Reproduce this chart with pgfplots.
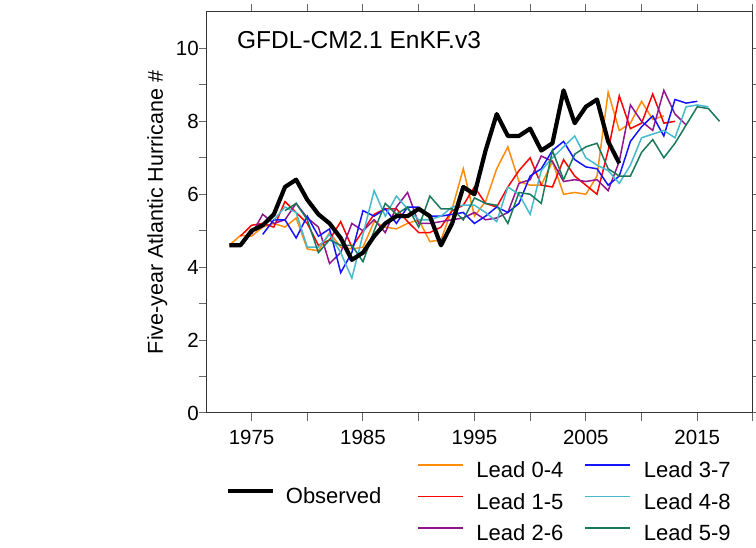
\documentclass[border=0pt]{standalone}
\usepackage{fontspec}
\setmainfont{Liberation Sans}
\usepackage{pgfplots}
\pgfplotsset{compat=1.18}
\definecolor{cOr}{RGB}{255,140,10}
\definecolor{cRd}{RGB}{255,0,0}
\definecolor{cPu}{RGB}{145,20,140}
\definecolor{cBl}{RGB}{20,20,255}
\definecolor{cCy}{RGB}{70,185,205}
\definecolor{cGr}{RGB}{25,120,90}
\begin{document}
\begin{tikzpicture}
\path[use as bounding box] (-207pt,-135pt) rectangle (549pt,413pt);
\begin{axis}[
  at={(0pt,0pt)}, anchor=south west,
  scale only axis, width=546pt, height=401pt,
  xmin=1971, xmax=2020, ymin=0, ymax=11,
  xtick={1975,1985,...,2015}, minor xtick={1980,1990,...,2020},
  ytick={0,2,...,10}, minor ytick={1,3,...,9},
  tick align=outside, major tick length=8pt, minor tick length=8pt,
  tick style={black!60, line width=1pt},
  axis line style={black!80, line width=1pt},
  /pgf/number format/assume math mode=true,
  /pgf/number format/1000 sep={},
  xticklabel style={font=\fontsize{20.5}{24}\selectfont, inner sep=0pt, anchor=north, yshift=-9pt},
  yticklabel style={font=\fontsize{20.5}{24}\selectfont, inner sep=0pt, anchor=east},
  ylabel={Five-year Atlantic Hurricane \#},
  ylabel style={font=\fontsize{21.5}{26}\selectfont, at={(axis description cs:-0.0806,0.5)}, anchor=base, inner sep=0pt},
  legend style={draw=none, fill=none, inner sep=0pt, outer sep=0pt,
    at={(rel axis cs:0,0)}, anchor=north west, xshift=210pt, yshift=-49pt,
    font=\fontsize{22}{26}\selectfont,
    nodes={inner sep=0pt, text height=16pt, text depth=0pt},
    column sep=13pt, row sep=15.5pt,
    /tikz/every even column/.append style={column sep=21pt}},
  legend columns=2,
  legend cell align=left,
  legend image code/.code={\draw[#1] (0pt,5pt) -- (45pt,5pt);},
]
% Lead 0-4
\addplot[cOr, line width=1.5pt, forget plot] coordinates {
(1973,4.6)(1974,4.87)(1975,4.85)(1976,5.1)(1977,5.2)(1978,5.1)(1979,5.35)(1980,4.5)(1981,4.45)(1982,4.95)
(1983,4.55)(1984,4.5)(1985,4.55)(1986,5.25)(1987,5.1)(1988,5.05)(1989,5.2)(1990,5.3)(1991,4.7)(1992,4.75)
(1993,5.6)(1994,6.7)(1995,5.4)(1996,5.8)(1997,6.7)(1998,7.3)(1999,6.35)(2000,6.25)(2001,6.25)(2002,6.9)
(2003,6.0)(2004,6.05)(2005,6.0)(2006,6.5)(2007,8.8)(2008,7.75)(2009,7.95)(2010,8.55)(2011,8.05)(2012,8.15)};
% Lead 1-5
\addplot[cRd, line width=1.5pt, forget plot] coordinates {
(1974,4.85)(1975,5.15)(1976,5.2)(1977,5.1)(1978,5.8)(1979,5.5)(1980,5.2)(1981,4.6)(1982,4.75)(1983,5.25)
(1984,4.55)(1985,5.0)(1986,5.45)(1987,5.6)(1988,5.6)(1989,5.25)(1990,4.95)(1991,4.95)(1992,5.1)(1993,5.55)
(1994,5.7)(1995,6.2)(1996,5.75)(1997,5.65)(1998,6.2)(1999,6.65)(2000,7.0)(2001,6.25)(2002,6.2)(2003,6.95)
(2004,6.5)(2005,6.25)(2006,6.0)(2007,7.2)(2008,8.7)(2009,7.8)(2010,7.95)(2011,8.75)(2012,7.95)(2013,8.0)};
% Lead 2-6
\addplot[cPu, line width=1.5pt, forget plot] coordinates {
(1975,4.9)(1976,5.45)(1977,5.2)(1978,5.3)(1979,5.75)(1980,5.35)(1981,5.1)(1982,4.1)(1983,4.4)(1984,5.2)
(1985,5.0)(1986,5.3)(1987,4.95)(1988,5.65)(1989,6.05)(1990,5.2)(1991,5.2)(1992,5.25)(1993,5.3)(1994,5.35)
(1995,5.5)(1996,5.3)(1997,5.35)(1998,5.5)(1999,6.3)(2000,6.4)(2001,7.05)(2002,6.9)(2003,6.35)(2004,6.4)
(2005,6.35)(2006,6.4)(2007,6.1)(2008,6.9)(2009,8.45)(2010,8.0)(2011,7.75)(2012,8.85)(2013,8.2)(2014,7.9)};
% Lead 3-7
\addplot[cBl, line width=1.5pt, forget plot] coordinates {
(1976,4.9)(1977,5.3)(1978,5.3)(1979,4.8)(1980,5.4)(1981,4.85)(1982,5.05)(1983,3.85)(1984,4.4)(1985,5.55)
(1986,5.4)(1987,5.6)(1988,5.2)(1989,5.65)(1990,5.65)(1991,5.4)(1992,5.4)(1993,5.45)(1994,5.5)(1995,5.2)
(1996,5.4)(1997,5.65)(1998,5.5)(1999,5.75)(2000,6.5)(2001,6.7)(2002,7.2)(2003,7.45)(2004,6.95)(2005,6.75)
(2006,6.7)(2007,6.25)(2008,6.5)(2009,7.45)(2010,7.85)(2011,8.15)(2012,7.6)(2013,8.6)(2014,8.5)(2015,8.55)};
% Lead 4-8
\addplot[cCy, line width=1.5pt, forget plot] coordinates {
(1977,5.3)(1978,5.65)(1979,5.5)(1980,4.55)(1981,4.55)(1982,4.9)(1983,4.4)(1984,3.7)(1985,4.9)(1986,6.1)
(1987,5.4)(1988,5.95)(1989,5.6)(1990,5.3)(1991,5.3)(1992,5.4)(1993,5.65)(1994,5.7)(1995,5.7)(1996,5.5)
(1997,5.25)(1998,6.2)(1999,6.0)(2000,5.45)(2001,6.65)(2002,7.0)(2003,7.3)(2004,7.6)(2005,7.0)(2006,6.8)
(2007,6.65)(2008,6.3)(2009,6.8)(2010,7.55)(2011,7.65)(2012,7.75)(2013,7.55)(2014,8.4)(2015,8.45)(2016,8.4)};
% Lead 5-9
\addplot[cGr, line width=1.5pt, forget plot] coordinates {
(1978,5.55)(1979,5.75)(1980,5.3)(1981,4.4)(1982,4.75)(1983,4.6)(1984,4.6)(1985,4.15)(1986,5.0)(1987,5.75)
(1988,5.45)(1989,5.65)(1990,5.1)(1991,5.95)(1992,5.6)(1993,5.6)(1994,5.3)(1995,5.9)(1996,5.75)(1997,5.7)
(1998,5.2)(1999,6.05)(2000,6.0)(2001,5.75)(2002,7.2)(2003,6.4)(2004,7.1)(2005,7.3)(2006,7.4)(2007,6.7)
(2008,6.5)(2009,6.5)(2010,7.15)(2011,7.5)(2012,7.0)(2013,7.4)(2014,7.9)(2015,8.4)(2016,8.35)(2017,8.0)};
% Observed
\addplot[black, line width=4.2pt, line join=round, forget plot] coordinates {
(1973,4.6)(1974,4.6)(1975,5.0)(1976,5.15)(1977,5.45)(1978,6.2)(1979,6.4)(1980,5.85)(1981,5.45)(1982,5.2)
(1983,4.8)(1984,4.2)(1985,4.4)(1986,4.85)(1987,5.2)(1988,5.4)(1989,5.4)(1990,5.6)(1991,5.4)(1992,4.6)
(1993,5.2)(1994,6.2)(1995,6.0)(1996,7.2)(1997,8.2)(1998,7.6)(1999,7.6)(2000,7.8)(2001,7.2)(2002,7.4)
(2003,8.85)(2004,7.95)(2005,8.4)(2006,8.6)(2007,7.45)(2008,6.85)};
\node[anchor=base west, inner sep=0pt, font=\fontsize{24.5}{29}\selectfont] at (rel axis cs:0.0549,0.9102) {GFDL-CM2.1 EnKF.v3};
\addlegendimage{cOr, line width=1.5pt}\addlegendentry{Lead 0-4}
\addlegendimage{cBl, line width=1.5pt}\addlegendentry{Lead 3-7}
\addlegendimage{cRd, line width=1.5pt}\addlegendentry{Lead 1-5}
\addlegendimage{cCy, line width=1.5pt}\addlegendentry{Lead 4-8}
\addlegendimage{cPu, line width=1.5pt}\addlegendentry{Lead 2-6}
\addlegendimage{cGr, line width=1.5pt}\addlegendentry{Lead 5-9}
\end{axis}
\begin{axis}[
  at={(0pt,0pt)}, anchor=south west,
  scale only axis, width=546pt, height=401pt,
  hide axis, xmin=0, xmax=1, ymin=0, ymax=1,
  legend style={draw=none, fill=none, inner sep=0pt, outer sep=0pt,
    at={(rel axis cs:0,0)}, anchor=north west, xshift=18.7pt, yshift=-75pt,
    font=\fontsize{22}{26}\selectfont,
    nodes={inner sep=0pt, text height=16pt, text depth=0pt},
    column sep=11pt},
  legend cell align=left,
  legend image code/.code={\draw[#1] (0pt,5pt) -- (45pt,5pt);},
]
\addlegendimage{black, line width=4.2pt}\addlegendentry{Observed}
\end{axis}
\end{tikzpicture}
\end{document}
